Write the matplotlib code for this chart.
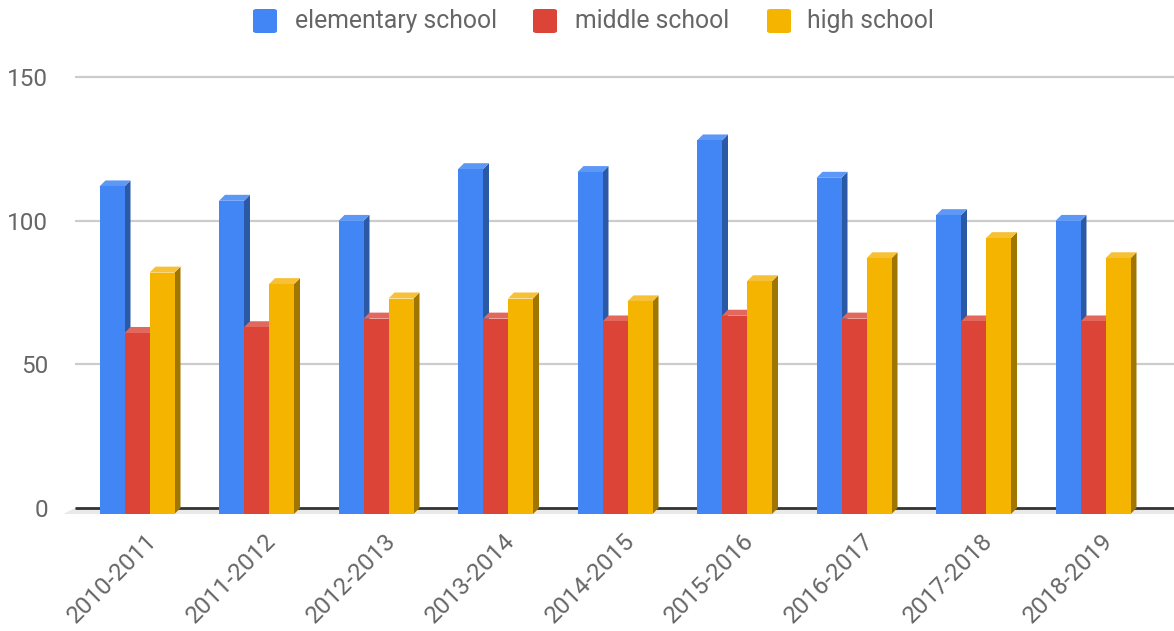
import matplotlib
matplotlib.use("Agg")
import matplotlib.pyplot as plt
from matplotlib.patches import Polygon, FancyBboxPatch
from matplotlib import transforms
import numpy as np

plt.rcParams['font.family'] = ['Roboto', 'DejaVu Sans']

years = ['2010-2011', '2011-2012', '2012-2013', '2013-2014', '2014-2015',
         '2015-2016', '2016-2017', '2017-2018', '2018-2019']
elementary = [114, 109, 102, 120, 119, 130, 117, 104, 102]
middle = [63, 65, 68, 68, 67, 69, 68, 67, 67]
high = [84, 80, 75, 75, 74, 81, 89, 96, 89]
series = ['elementary school', 'middle school', 'high school']

front_cols = ['#4285F4', '#DB4437', '#F4B400']
side_cols = ['#2B59A6', '#8E2B22', '#A07500']
top_cols = ['#5E98F6', '#E2685D', '#F6C136']
txt_col = '#666666'

W, H = 1174, 631
fig = plt.figure(figsize=(W / 100, H / 100), dpi=100)

# axes placement in pixels: x 75..1174, y value 0 at 508px, 150 at 77px
ppu = (508 - 77) / 150.0
ylo, yhi = -4, 155
bot_px = 508 + (-ylo) * ppu
top_px = 77 - (yhi - 150) * ppu
ax = fig.add_axes([75 / W, (H - bot_px) / H, 1099 / W, (bot_px - top_px) / H])

grp_px = 119.5
x0 = -(140 - 75) / grp_px
ax.set_xlim(x0, x0 + 1099 / grp_px)
ax.set_ylim(ylo, yhi)

bw = 25 / grp_px        # bar width in data units
dx = 6 / grp_px         # depth offset
dy = 6 / ppu

for s in ax.spines.values():
    s.set_visible(False)
ax.tick_params(length=0)
ax.set_yticks([0, 50, 100, 150])
ax.set_yticklabels(['0', '50', '100', '150'], fontsize=17.5, color=txt_col)
ax.tick_params(axis='y', pad=19.5)

xl, xr = ax.get_xlim()
for v in [50, 100, 150]:
    ax.plot([xl, xr], [v, v], color='#cccccc', lw=1.6, zorder=1, solid_capstyle='butt')

# floor strip and zero line
ax.add_patch(Polygon([(xl - 12 / grp_px, -dy), (xr, -dy), (xr, 0), (xl, 0)],
                     closed=True, facecolor='#e9e9e9', edgecolor='none', zorder=1,
                     clip_on=False))
ax.plot([xl, xr], [0, 0], color='#333333', lw=2, zorder=2, solid_capstyle='butt')

x = np.arange(len(years))
data = [elementary, middle, high]
for i in range(len(years)):
    for k in range(3):
        v = data[k][i]
        left = x[i] - 1.5 * bw + k * bw - dx / 2
        right = left + bw
        # side face
        ax.add_patch(Polygon([(right, -dy), (right + dx, 0), (right + dx, v), (right, v - dy)],
                             closed=True, facecolor=side_cols[k], edgecolor='none', zorder=3))
        # top face
        ax.add_patch(Polygon([(left, v - dy), (left + dx, v), (right + dx, v), (right, v - dy)],
                             closed=True, facecolor=top_cols[k], edgecolor='none', zorder=3))
        # front face
        ax.add_patch(Polygon([(left, -dy), (right, -dy), (right, v - dy), (left, v - dy)],
                             closed=True, facecolor=front_cols[k], edgecolor='none', zorder=3))

ax.set_xticks(x)
ax.set_xticklabels(years, rotation=45, ha='right', va='center', rotation_mode='anchor',
                   fontsize=17.5, color=txt_col)
offset = transforms.ScaledTranslation(13 / 100, -13 / 100, fig.dpi_scale_trans)
for lab in ax.get_xticklabels():
    lab.set_transform(lab.get_transform() + offset)

# legend, laid out like the original (pixel positions)
sq_x = [253, 533, 767]
txt_x = [295, 575, 807]
for k in range(3):
    fig.add_artist(FancyBboxPatch((sq_x[k] / W, 1 - 33 / H), 24 / W, 24 / H,
                                  boxstyle='round,pad=0,rounding_size=0.003',
                                  transform=fig.transFigure, facecolor=front_cols[k],
                                  edgecolor='none'))
    fig.text(txt_x[k] / W, 1 - 21 / H, series[k], fontsize=17.8, color=txt_col,
             ha='left', va='center')

fig.savefig('out.png', dpi=100)
